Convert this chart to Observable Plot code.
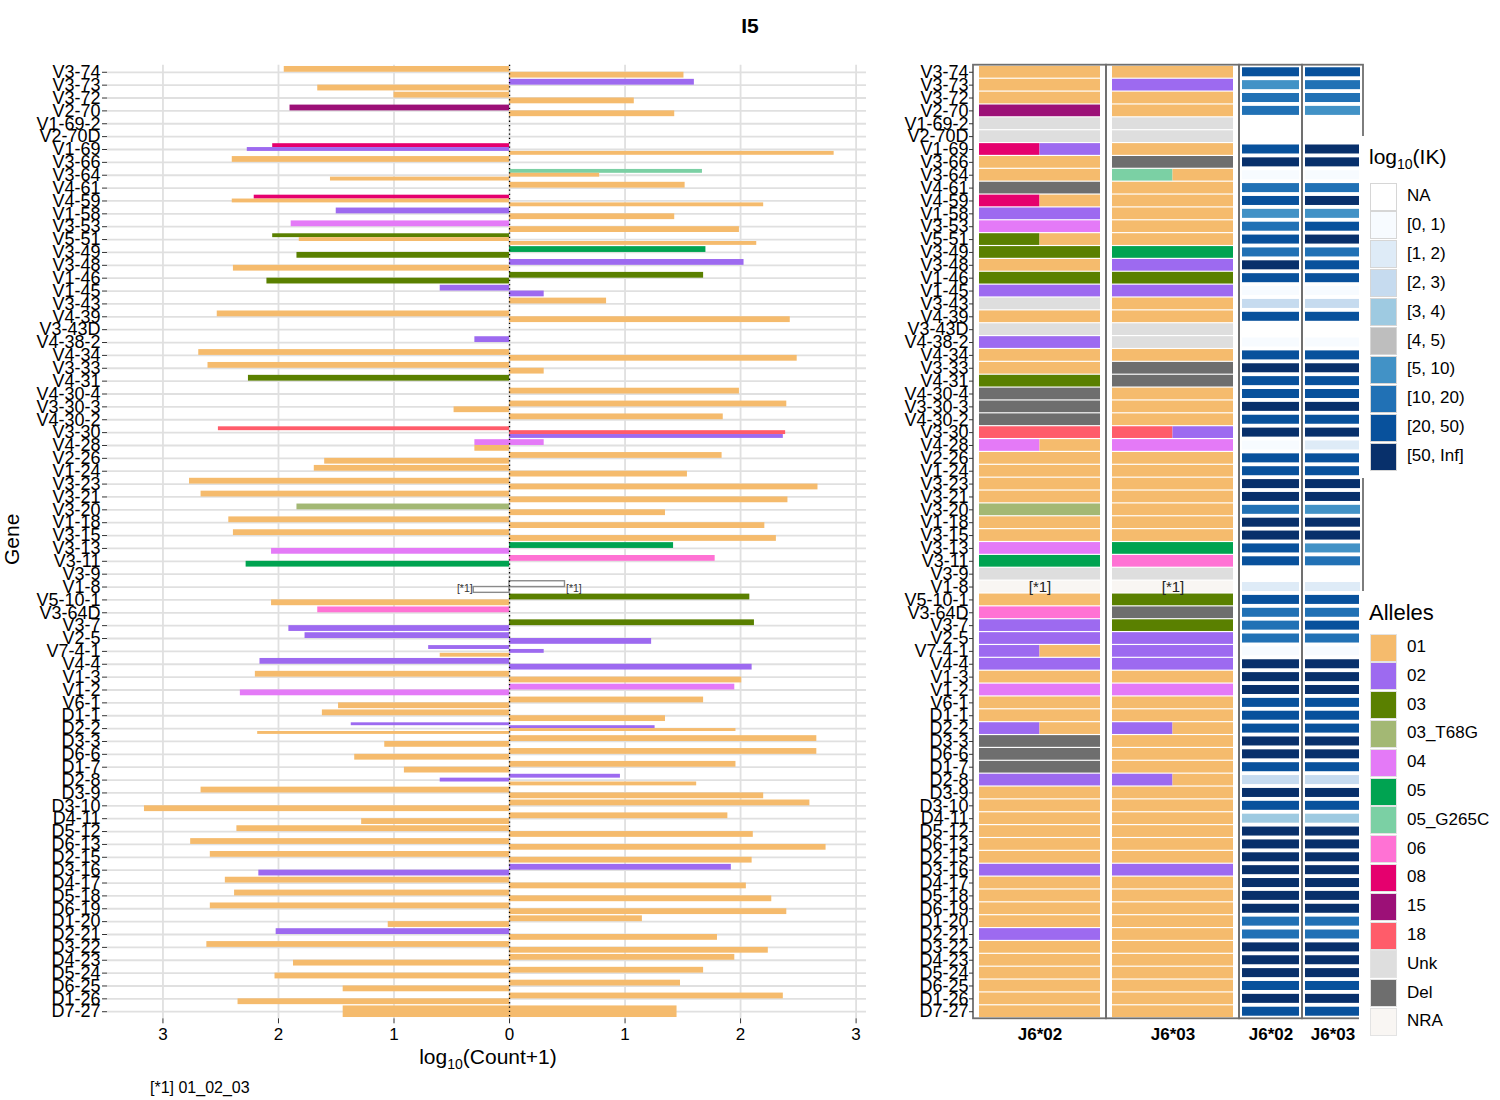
<!DOCTYPE html>
<html><head><meta charset="utf-8">
<script src="https://cdn.jsdelivr.net/npm/d3@7"></script>
<script src="https://cdn.jsdelivr.net/npm/@observablehq/plot@0.6"></script>
<style>
body{margin:0;background:#fff;font-family:"Liberation Sans",Arial,sans-serif;color:#000;}
#wrap{position:relative;width:1500px;height:1100px;overflow:hidden;background:#fff;}
.abs{position:absolute;white-space:nowrap;}
.rightplot [aria-label="x-axis tick label"] text{font-weight:bold;}
</style></head><body><div id="wrap"></div>
<script>
const genes = ["V3-74","V3-73","V3-72","V2-70","V1-69-2","V2-70D","V1-69","V3-66","V3-64","V4-61",
"V4-59","V1-58","V3-53","V5-51","V3-49","V3-48","V1-46","V1-45","V3-43","V4-39",
"V3-43D","V4-38-2","V4-34","V3-33","V4-31","V4-30-4","V3-30-3","V4-30-2","V3-30","V4-28",
"V2-26","V1-24","V3-23","V3-21","V3-20","V1-18","V3-15","V3-13","V3-11","V3-9",
"V1-8","V5-10-1","V3-64D","V3-7","V2-5","V7-4-1","V4-4","V1-3","V1-2","V6-1",
"D1-1","D2-2","D3-3","D6-6","D1-7","D2-8","D3-9","D3-10","D4-11","D5-12",
"D6-13","D2-15","D3-16","D4-17","D5-18","D6-19","D1-20","D2-21","D3-22","D4-23",
"D5-24","D6-25","D1-26","D7-27"];

// allele calls per gene (heatmap), "/" separates two alleles
const hm02 = ["01","01","01","15","Unk","Unk","08/02","01","01","Del",
"08/01","02","04","03/01","03","01","03","02","Unk","01",
"Unk","02","01","01","03","Del","Del","Del","18","04/01",
"01","01","01","01","03_T68G","01","01","04","05","Unk",
"NRA","01","06","02","02","02/01","02","01","04","01",
"01","02/01","Del","Del","Del","02","01","01","01","01",
"01","01","02","01","01","01","01","02","01","01",
"01","01","01","01"];
const hm03 = ["01","02","01","01","Unk","Unk","01","Del","05_G265C/01","01",
"01","01","01","01","05","02","03","02","01","01",
"Unk","Unk","01","Del","Del","01","01","01","18/02","04",
"01","01","01","01","01","01","01","05","06","Unk",
"NRA","03","Del","03","02","02","02","01","04","01",
"01","02/01","01","01","01","02/01","01","01","01","01",
"01","01","02","01","01","01","01","01","01","01",
"01","01","01","01"];

// log10(IK) bin index per gene (into ikBins)
const ik02 = [8,6,7,7,0,0,8,9,1,7, 8,6,7,8,7,9,8,1,3,8, 0,1,8,9,8,8,9,8,9,1, 8,8,9,9,7,9,9,8,8,0, 2,8,7,7,7,1,9,9,9,8,
8,8,9,9,8,3,9,8,4,9, 9,9,9,9,9,9,7,7,9,9, 9,8,9,8];
const ik03 = [8,7,7,6,0,0,9,9,1,7, 9,6,8,9,7,8,8,1,3,8, 0,1,8,9,8,8,9,8,9,2, 8,8,9,9,6,9,9,6,7,0, 2,8,7,8,7,1,9,9,9,8,
8,8,9,9,8,3,9,8,4,9, 9,9,9,9,9,9,7,7,9,9, 9,8,9,8];

const ikBins = ["NA","[0, 1)","[1, 2)","[2, 3)","[3, 4)","[4, 5)","[5, 10)","[10, 20)","[20, 50)","[50, Inf]"];
const ikColors = ["#FFFFFF","#F7FBFF","#DEEBF7","#C6DBEF","#9ECAE1","#BEBEBE","#4292C6","#2171B5","#08519C","#08306B"];

const alleleNames = ["01","02","03","03_T68G","04","05","05_G265C","06","08","15","18","Unk","Del","NRA"];
const alleleColors = ["#F5BB6D","#9D6AF0","#5A8000","#A3B874","#E47AF7","#00A351","#7BD0A4","#FF72D4","#E5006E","#9C1077","#FF5C6A","#DEDEDE","#6E6E6E","#F9F6F3"];

// bars: [gene, J, allele, log10(count+1), dodge group]; listed top to bottom within a gene
const bars = [
["V3-74","J6*02","01",1.95,"a"],["V3-74","J6*03","01",1.51,"b"],
["V3-73","J6*03","02",1.60,"a"],["V3-73","J6*02","01",1.66,"b"],
["V3-72","J6*02","01",1.00,"a"],["V3-72","J6*03","01",1.08,"b"],
["V2-70","J6*02","15",1.90,"a"],["V2-70","J6*03","01",1.43,"b"],
["V1-69","J6*02","08",2.05,"a"],["V1-69","J6*02","02",2.27,"b"],["V1-69","J6*03","01",2.81,"c"],
["V3-66","J6*02","01",2.40,"a"],["V3-66","J6*03","Del",0,"b"],
["V3-64","J6*03","05_G265C",1.67,"a"],["V3-64","J6*03","01",0.78,"b"],["V3-64","J6*02","01",1.55,"c"],
["V4-61","J6*03","01",1.52,"a"],["V4-61","J6*02","Del",0,"b"],
["V4-59","J6*02","08",2.21,"a"],["V4-59","J6*02","01",2.40,"b"],["V4-59","J6*03","01",2.20,"c"],
["V1-58","J6*02","02",1.50,"a"],["V1-58","J6*03","01",1.43,"b"],
["V3-53","J6*02","04",1.89,"a"],["V3-53","J6*03","01",1.99,"b"],
["V5-51","J6*02","03",2.05,"a"],["V5-51","J6*02","01",1.82,"b"],["V5-51","J6*03","01",2.14,"c"],
["V3-49","J6*03","05",1.70,"a"],["V3-49","J6*02","03",1.84,"b"],
["V3-48","J6*03","02",2.03,"a"],["V3-48","J6*02","01",2.39,"b"],
["V1-46","J6*03","03",1.68,"a"],["V1-46","J6*02","03",2.10,"b"],
["V1-45","J6*02","02",0.60,"a"],["V1-45","J6*03","02",0.30,"b"],
["V3-43","J6*03","01",0.84,"a"],["V3-43","J6*02","Unk",0,"b"],
["V4-39","J6*02","01",2.53,"a"],["V4-39","J6*03","01",2.43,"b"],
["V4-38-2","J6*02","02",0.30,"a"],["V4-38-2","J6*03","Unk",0,"b"],
["V4-34","J6*02","01",2.69,"a"],["V4-34","J6*03","01",2.49,"b"],
["V3-33","J6*02","01",2.61,"a"],["V3-33","J6*03","01",0.30,"b"],
["V4-31","J6*02","03",2.26,"a"],["V4-31","J6*03","Del",0,"b"],
["V4-30-4","J6*03","01",1.99,"a"],["V4-30-4","J6*02","Del",0,"b"],
["V3-30-3","J6*03","01",2.40,"a"],["V3-30-3","J6*02","01",0.48,"b"],
["V4-30-2","J6*03","01",1.85,"a"],["V4-30-2","J6*02","Del",0,"b"],
["V3-30","J6*02","18",2.52,"a"],["V3-30","J6*03","18",2.39,"b"],["V3-30","J6*03","02",2.37,"c"],
["V4-28","J6*02","04",0.30,"a"],["V4-28","J6*03","04",0.30,"a"],["V4-28","J6*02","01",0.30,"b"],
["V2-26","J6*03","01",1.84,"a"],["V2-26","J6*02","01",1.60,"b"],
["V1-24","J6*02","01",1.69,"a"],["V1-24","J6*03","01",1.54,"b"],
["V3-23","J6*02","01",2.77,"a"],["V3-23","J6*03","01",2.67,"b"],
["V3-21","J6*02","01",2.67,"a"],["V3-21","J6*03","01",2.41,"b"],
["V3-20","J6*02","03_T68G",1.84,"a"],["V3-20","J6*03","01",1.35,"b"],
["V1-18","J6*02","01",2.43,"a"],["V1-18","J6*03","01",2.21,"b"],
["V3-15","J6*02","01",2.39,"a"],["V3-15","J6*03","01",2.31,"b"],
["V3-13","J6*03","05",1.42,"a"],["V3-13","J6*02","04",2.06,"b"],
["V3-11","J6*03","06",1.78,"a"],["V3-11","J6*02","05",2.28,"b"],
["V1-8","J6*03","NRA",0.48,"a"],["V1-8","J6*02","NRA",0.31,"b"],
["V5-10-1","J6*03","03",2.08,"a"],["V5-10-1","J6*02","01",2.06,"b"],
["V3-64D","J6*02","06",1.66,"a"],["V3-64D","J6*03","Del",0,"b"],
["V3-7","J6*03","03",2.12,"a"],["V3-7","J6*02","02",1.91,"b"],
["V2-5","J6*02","02",1.77,"a"],["V2-5","J6*03","02",1.23,"b"],
["V7-4-1","J6*02","02",0.70,"a"],["V7-4-1","J6*03","02",0.30,"b"],["V7-4-1","J6*02","01",0.60,"c"],
["V4-4","J6*02","02",2.16,"a"],["V4-4","J6*03","02",2.10,"b"],
["V1-3","J6*02","01",2.20,"a"],["V1-3","J6*03","01",2.01,"b"],
["V1-2","J6*03","04",1.95,"a"],["V1-2","J6*02","04",2.33,"b"],
["V6-1","J6*03","01",1.68,"a"],["V6-1","J6*02","01",1.48,"b"],
["D1-1","J6*02","01",1.62,"a"],["D1-1","J6*03","01",1.35,"b"],
["D2-2","J6*02","02",1.37,"a"],["D2-2","J6*03","02",1.26,"b"],["D2-2","J6*03","01",1.96,"c"],["D2-2","J6*02","01",2.18,"d"],
["D3-3","J6*03","01",2.66,"a"],["D3-3","J6*02","01",1.08,"b"],
["D6-6","J6*03","01",2.66,"a"],["D6-6","J6*02","01",1.34,"b"],
["D1-7","J6*03","01",1.96,"a"],["D1-7","J6*02","01",0.91,"b"],
["D2-8","J6*03","02",0.96,"a"],["D2-8","J6*02","02",0.60,"b"],["D2-8","J6*03","01",1.62,"c"],
["D3-9","J6*02","01",2.67,"a"],["D3-9","J6*03","01",2.20,"b"],
["D3-10","J6*03","01",2.60,"a"],["D3-10","J6*02","01",3.16,"b"],
["D4-11","J6*03","01",1.89,"a"],["D4-11","J6*02","01",1.28,"b"],
["D5-12","J6*02","01",2.36,"a"],["D5-12","J6*03","01",2.11,"b"],
["D6-13","J6*02","01",2.76,"a"],["D6-13","J6*03","01",2.74,"b"],
["D2-15","J6*02","01",2.59,"a"],["D2-15","J6*03","01",2.10,"b"],
["D3-16","J6*03","02",1.92,"a"],["D3-16","J6*02","02",2.17,"b"],
["D4-17","J6*02","01",2.46,"a"],["D4-17","J6*03","01",2.05,"b"],
["D5-18","J6*02","01",2.38,"a"],["D5-18","J6*03","01",2.27,"b"],
["D6-19","J6*02","01",2.59,"a"],["D6-19","J6*03","01",2.40,"b"],
["D1-20","J6*03","01",1.15,"a"],["D1-20","J6*02","01",1.05,"b"],
["D2-21","J6*02","02",2.02,"a"],["D2-21","J6*03","01",1.80,"b"],
["D3-22","J6*02","01",2.62,"a"],["D3-22","J6*03","01",2.24,"b"],
["D4-23","J6*03","01",1.95,"a"],["D4-23","J6*02","01",1.87,"b"],
["D5-24","J6*03","01",1.68,"a"],["D5-24","J6*02","01",2.03,"b"],
["D6-25","J6*03","01",1.48,"a"],["D6-25","J6*02","01",1.44,"b"],
["D1-26","J6*03","01",2.37,"a"],["D1-26","J6*02","01",2.35,"b"],
["D7-27","J6*02","01",1.44,"a"],["D7-27","J6*03","01",1.45,"a"]
];
const xTicks = [-3,-2,-1,0,1,2,3];
const hmColumns = ["J6*02","J6*03","J6*02","J6*03"];
const footnote = "[*1] 01_02_03";
const nraLabel = "[*1]";

// ---------- build ----------
const wrap = document.getElementById("wrap");
const colorOf = a => alleleColors[alleleNames.indexOf(a)];
const FONT = "'Liberation Sans', Arial, sans-serif";
const yScale = {domain: [-0.55, 73.55], reverse: true};
const HT = 1100, MT = 64.7, MB = 1100 - 1018.3;

// dodge computation
const barRows = [];
for (const [g, list] of d3.group(bars.map(b => ({gene:b[0], j:b[1], allele:b[2], value:b[3], grp:b[4]})), d => d.gene)) {
  const i = genes.indexOf(g);
  const grps = [...new Set(list.map(d => d.grp))];
  const h = 0.9 / grps.length;
  for (const d of list) {
    const k = grps.indexOf(d.grp);
    const s = d.j === "J6*02" ? -1 : 1;
    barRows.push({...d, i, y1: i - 0.45 + k*h, y2: i - 0.45 + (k+1)*h, x: s*d.value, fillc: colorOf(d.allele)});
  }
}
const solid = barRows.filter(d => d.value > 0 && d.allele !== "NRA");
const hollow = barRows.filter(d => d.value > 0 && d.allele === "NRA");

const left = Plot.plot({
  width: 880, height: HT, marginTop: MT, marginBottom: MB, marginLeft: 107, marginRight: 14,
  style: {fontFamily: FONT, fontSize: "18px", color: "#000", background: "transparent", overflow: "visible"},
  x: {domain: [-3.48, 3.09]},
  y: yScale,
  color: {type: "identity"},
  marks: [
    Plot.ruleX(xTicks, {x: d => d, stroke: "#e0e0e0", strokeWidth: 1.8}),
    Plot.ruleY(d3.range(genes.length), {y: d => d, stroke: "#e0e0e0", strokeWidth: 1.8}),
    Plot.rect(solid, {x1: d => 0, x2: "x", y1: "y1", y2: "y2", fill: "fillc"}),
    Plot.rect(hollow, {x1: d => 0, x2: "x", y1: "y1", y2: "y2", fill: "white", stroke: "#8a8a8a", strokeWidth: 1.4}),
    Plot.text(hollow.filter(d => d.x < 0), {x: "x", y: d => (d.y1 + d.y2)/2 - 0.1, text: d => nraLabel, textAnchor: "end", dx: -1, fontSize: 10.5, fill: "#333"}),
    Plot.text(hollow.filter(d => d.x > 0), {x: "x", y: d => (d.y1 + d.y2)/2 + 0.35, text: d => nraLabel, textAnchor: "start", dx: 1, fontSize: 10.5, fill: "#333"}),
    Plot.ruleX([0], {x: d => d, stroke: "#000", strokeWidth: 1.3, strokeDasharray: "1.3,3"}),
    Plot.axisY({ticks: d3.range(genes.length), tickFormat: i => genes[i], tickSize: 5, tickPadding: 2, fontSize: 18, label: null, stroke: "#333"}),
    Plot.axisX({ticks: xTicks, tickFormat: d => Math.abs(d), tickSize: 5, tickPadding: 4, fontSize: 17, label: null, stroke: "#333"})
  ]
});
left.classList.add("leftplot");
Object.assign(left.style, {position: "absolute", left: "0px", top: "0px"});
wrap.appendChild(left);

// ---------- right heatmap ----------
const panels = [[0,133],[133,266],[266,329],[329,390]];
const tiles = [], texts = [];
genes.forEach((g, i) => {
  [hm02[i], hm03[i]].forEach((call, c) => {
    const [p0, p1] = panels[c];
    const a0 = p0 + 6, a1 = p1 - 6;
    const parts = call.split("/");
    const w = (a1 - a0) / parts.length;
    parts.forEach((a, k) => tiles.push({x1: a0 + k*w, x2: a0 + (k+1)*w, y1: i - 0.455, y2: i + 0.455, fill: colorOf(a)}));
    if (call === "NRA") texts.push({x: (a0 + a1)/2, y: i, t: nraLabel});
  });
  [ik02[i], ik03[i]].forEach((b, c) => {
    const [p0, p1] = panels[c + 2];
    tiles.push({x1: p0 + 3, x2: p1 - 3, y1: i - 0.35, y2: i + 0.35, fill: ikColors[b]});
  });
});

const right = Plot.plot({
  width: 485, height: HT, marginTop: MT, marginBottom: MB, marginLeft: 93, marginRight: 2,
  style: {fontFamily: FONT, fontSize: "18px", color: "#000", background: "transparent", overflow: "visible"},
  x: {domain: [0, 390]},
  y: yScale,
  color: {type: "identity"},
  marks: [
    Plot.rect(tiles, {x1: "x1", x2: "x2", y1: "y1", y2: "y2", fill: "fill"}),
    Plot.text(texts, {x: "x", y: "y", text: "t", fontSize: 15, fill: "#222"}),
    Plot.rect(panels, {x1: d => d[0], x2: d => d[1], y1: d => -0.55, y2: d => 73.55, fill: "none", stroke: "#6f6f6f", strokeWidth: 1.8}),
    Plot.axisY({ticks: d3.range(genes.length), tickFormat: i => genes[i], tickSize: 4, tickPadding: 1, fontSize: 18, label: null, stroke: "#333"}),
    Plot.axisX({ticks: panels.map(p => (p[0] + p[1])/2), tickFormat: (d, k) => hmColumns[k], tickSize: 0, tickPadding: 9, fontSize: 17, label: null})
  ]
});
right.classList.add("rightplot");
Object.assign(right.style, {position: "absolute", left: "880px", top: "0px"});
wrap.appendChild(right);

// ---------- text & legends ----------
function addDiv(html, css) {
  const d = document.createElement("div");
  d.className = "abs";
  d.innerHTML = html;
  Object.assign(d.style, css);
  wrap.appendChild(d);
  return d;
}
addDiv("I5", {left: "700px", width: "100px", textAlign: "center", top: "14px", fontSize: "21px", fontWeight: "bold"});
addDiv("log<sub style='font-size:14px'>10</sub>(Count+1)", {left: "288px", width: "400px", textAlign: "center", top: "1045px", fontSize: "21px"});
addDiv("Gene", {left: "-13px", top: "528px", width: "50px", textAlign: "center", fontSize: "21px", transform: "rotate(-90deg)"});
addDiv(footnote, {left: "150px", top: "1079px", fontSize: "16px"});

// legend backgrounds (overlap panel edge as in reference)
addDiv("", {left: "1359px", top: "136px", width: "141px", height: "342px", background: "#fff"});
addDiv("", {left: "1359px", top: "591px", width: "141px", height: "509px", background: "#fff"});
addDiv("log<sub style='font-size:14px'>10</sub>(IK)", {left: "1369px", top: "145px", fontSize: "21px"});
ikBins.forEach((b, j) => {
  const cy = 196 + j*28.9;
  addDiv("", {left: "1370px", top: (cy - 13.5) + "px", width: "25px", height: "26px", background: ikColors[j], border: "1px solid #d6d6d6"});
  addDiv(b, {left: "1407px", top: (cy - 10) + "px", fontSize: "17px"});
});
addDiv("Alleles", {left: "1369px", top: "600px", fontSize: "22px"});
alleleNames.forEach((a, j) => {
  const cy = 647 + j*28.8;
  addDiv("", {left: "1370px", top: (cy - 13.5) + "px", width: "25px", height: "26px", background: alleleColors[j], border: "1px solid #e3e3e3"});
  addDiv(a, {left: "1407px", top: (cy - 10) + "px", fontSize: "17px"});
});
</script></body></html>
